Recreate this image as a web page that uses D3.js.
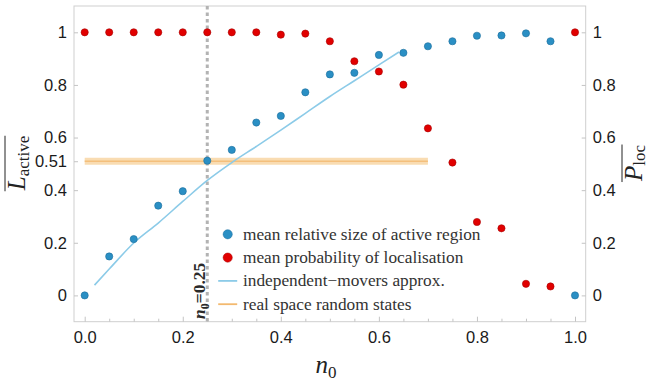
<!DOCTYPE html>
<html>
<head>
<meta charset="utf-8">
<script src="https://cdn.jsdelivr.net/npm/d3@7"></script>
<style>
  html, body { margin: 0; padding: 0; background: #fff; }
  svg { display: block; }
</style>
</head>
<body>
<svg id="chart" width="648" height="386"></svg>
<script>
// ---- data ----
const n0Values = [0, 0.05, 0.1, 0.15, 0.2, 0.25, 0.3, 0.35, 0.4, 0.45, 0.5, 0.55, 0.6, 0.65, 0.7, 0.75, 0.8, 0.85, 0.9, 0.95, 1.0];
const activeSize = [0, 0.148, 0.214, 0.341, 0.396, 0.512, 0.553, 0.657, 0.682, 0.772, 0.84, 0.846, 0.914, 0.922, 0.947, 0.966, 0.987, 0.988, 0.996, 0.966, 0];
const probLoc = [1, 1, 1, 1, 1, 1, 1, 1, 0.991, 0.995, 0.966, 0.89, 0.851, 0.801, 0.635, 0.505, 0.279, 0.255, 0.044, 0.034, 1];
const approxX = [0.02, 0.05, 0.1, 0.15, 0.2, 0.25, 0.3, 0.35, 0.4, 0.45, 0.5, 0.55, 0.6, 0.641];
const approxY = [0.039, 0.1, 0.199, 0.275, 0.357, 0.437, 0.505, 0.566, 0.628, 0.692, 0.756, 0.816, 0.876, 0.925];
const randomStateLevel = 0.51;
const randomStateRange = [0, 0.7];
const markerN0 = 0.25;
const leftTicks = [0, 0.2, 0.4, 0.51, 0.6, 0.8, 1];
const rightTicks = [0, 0.2, 0.4, 0.6, 0.8, 1];
const xTicks = [0, 0.2, 0.4, 0.6, 0.8, 1.0];
const xMinorTicks = d3.range(0, 21).map(i => i * 0.05);
const legendLabels = ["mean relative size of active region", "mean probability of localisation", "independent\u2212movers approx.", "real space random states"];

// ---- layout ----
const svg = d3.select("#chart");
const L = 74, R = 585.7, T = 6, B = 321.7;
const x = d3.scaleLinear().domain([-0.0218, 1.0218]).range([L, R]);
const y = d3.scaleLinear().domain([-0.1, 1.1]).range([B, T]);

const colBlue = "#2a8fc4", colBlueStroke = "#1b6d9c";
const colRed = "#e10000", colRedStroke = "#a80000";
const colLine = "#8ccbe8";
const colOrange = "#f3b96f";
const sans = "'Liberation Sans', Arial, Helvetica, sans-serif";
const serif = "'Liberation Serif', 'Times New Roman', serif";

// frame
svg.append("rect").attr("x", L).attr("y", T).attr("width", R - L).attr("height", B - T)
  .attr("fill", "none").attr("stroke", "#cfcfcf").attr("stroke-width", 1);

// axes
const gLeft = svg.append("g").attr("transform", `translate(${L},0)`)
  .call(d3.axisLeft(y).tickValues(leftTicks).tickSize(-4).tickPadding(7)
    .tickFormat(d => d === 0 || d === 1 ? d3.format("d")(d) : String(d)));
const gRight = svg.append("g").attr("transform", `translate(${R},0)`)
  .call(d3.axisRight(y).tickValues(rightTicks).tickSize(-4).tickPadding(7)
    .tickFormat(d => d === 0 || d === 1 ? d3.format("d")(d) : String(d)));
const gBottom = svg.append("g").attr("transform", `translate(0,${B})`)
  .call(d3.axisBottom(x).tickValues(xTicks).tickSize(-5).tickPadding(10).tickFormat(d3.format(".1f")));
const gMinor = svg.append("g").attr("transform", `translate(0,${B})`)
  .call(d3.axisBottom(x).tickValues(xMinorTicks.filter(v => !xTicks.some(t => Math.abs(t - v) < 1e-9))).tickSize(-3).tickFormat(""));
[gLeft, gRight, gBottom, gMinor].forEach(g => {
  g.select(".domain").remove();
  g.selectAll(".tick line").attr("stroke", "#c4c4c4");
  g.selectAll(".tick text").attr("font-family", sans).attr("font-size", 16.5).attr("fill", "#1a1a1a");
});
gBottom.selectAll(".tick text").attr("dy", "0.71em");

// orange band (real space random states)
const band = svg.append("g");
band.append("line").attr("x1", x(randomStateRange[0])).attr("x2", x(randomStateRange[1]))
  .attr("y1", y(randomStateLevel)).attr("y2", y(randomStateLevel))
  .attr("stroke", "#f9dcb2").attr("stroke-width", 7);
band.append("line").attr("x1", x(randomStateRange[0])).attr("x2", x(randomStateRange[1]))
  .attr("y1", y(randomStateLevel)).attr("y2", y(randomStateLevel))
  .attr("stroke", colOrange).attr("stroke-width", 1.6).attr("opacity", 0.8);

// vertical dotted marker
svg.append("line").attr("x1", x(markerN0)).attr("x2", x(markerN0)).attr("y1", T).attr("y2", B)
  .attr("stroke", "#b3b3b3").attr("stroke-width", 3).attr("stroke-dasharray", "3.5,3");

// independent-movers line
const approx = approxX.map((v, i) => [v, approxY[i]]);
svg.append("path").datum(approx)
  .attr("d", d3.line().x(d => x(d[0])).y(d => y(d[1])).curve(d3.curveMonotoneX))
  .attr("fill", "none").attr("stroke", colLine).attr("stroke-width", 1.6);

// points
svg.append("g").selectAll("circle").data(n0Values.map((v, i) => [v, probLoc[i]])).join("circle")
  .attr("cx", d => x(d[0])).attr("cy", d => y(d[1])).attr("r", 3.6)
  .attr("fill", colRed).attr("stroke", colRedStroke).attr("stroke-width", 0.6);
svg.append("g").selectAll("circle").data(n0Values.map((v, i) => [v, activeSize[i]])).join("circle")
  .attr("cx", d => x(d[0])).attr("cy", d => y(d[1])).attr("r", 3.6)
  .attr("fill", colBlue).attr("stroke", colBlueStroke).attr("stroke-width", 0.6);

// n0 = 0.25 rotated label
const mk = svg.append("text").attr("transform", `translate(${x(markerN0) - 2.5},319) rotate(-90)`)
  .attr("font-family", serif).attr("font-size", 17.5).attr("font-weight", "bold").attr("fill", "#2a2a2a");
mk.append("tspan").attr("font-style", "italic").text("n");
mk.append("tspan").attr("font-size", 12).attr("dy", 4).text("0");
mk.append("tspan").attr("dy", -4).text("=0.25");

// legend
const legX = 227.7, legY0 = 234.3, legDy = 23.3;
const leg = svg.append("g");
legendLabels.forEach((lab, i) => {
  const yy = legY0 + i * legDy;
  if (i === 0 || i === 1) {
    leg.append("circle").attr("cx", legX).attr("cy", yy).attr("r", 4.6)
      .attr("fill", i === 0 ? colBlue : colRed).attr("stroke", i === 0 ? colBlueStroke : colRedStroke).attr("stroke-width", 0.5);
  } else {
    leg.append("line").attr("x1", legX - 9.5).attr("x2", legX + 9.5).attr("y1", yy).attr("y2", yy)
      .attr("stroke", i === 2 ? colLine : colOrange).attr("stroke-width", 1.8);
  }
  leg.append("text").attr("x", 243).attr("y", yy).attr("dy", "0.32em")
    .attr("font-family", serif).attr("font-size", 17.3).attr("fill", "#333").text(lab);
});

// axis titles with overline
function mathLabel(tx, ty, main, sub, mainSize, subSize, subShift) {
  const g = svg.append("g").attr("transform", `translate(${tx},${ty}) rotate(-90)`);
  const t = g.append("text").attr("text-anchor", "middle").attr("font-family", serif).attr("fill", "#222");
  t.append("tspan").attr("font-style", "italic").attr("font-size", mainSize).text(main);
  t.append("tspan").attr("font-size", subSize).attr("dy", subShift).text(sub);
  const bb = t.node().getBBox();
  g.append("line").attr("x1", bb.x).attr("x2", bb.x + bb.width)
    .attr("y1", -mainSize * 0.8).attr("y2", -mainSize * 0.8)
    .attr("stroke", "#222").attr("stroke-width", 1);
  return g;
}
mathLabel(25, 163, "L", "active", 25, 17, 3.5);
mathLabel(642, 163, "P", "loc", 25, 17, 3);

// x label
const xl = svg.append("text").attr("x", 326).attr("y", 373).attr("text-anchor", "middle")
  .attr("font-family", serif).attr("fill", "#222");
xl.append("tspan").attr("font-style", "italic").attr("font-size", 25).text("n");
xl.append("tspan").attr("font-size", 17).attr("dy", 5).text("0");
</script>
</body>
</html>
